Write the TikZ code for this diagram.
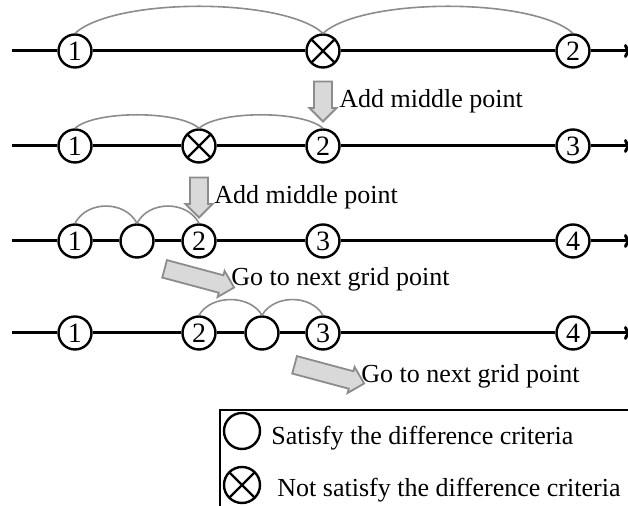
\documentclass[tikz,border=0pt]{standalone}
\usepackage{fontspec}
\setmainfont{Liberation Serif}
\usetikzlibrary{shapes.arrows,arrows.meta}
\definecolor{arcgray}{HTML}{8C8C8C}
\definecolor{blockfill}{HTML}{D9D9D9}
\definecolor{blockedge}{HTML}{8C8C8C}

\begin{document}
\begin{tikzpicture}[x=0.5pt,y=-0.5pt,
    font=\fontsize{13}{15}\selectfont,
    axis/.style={line width=1.5pt, -{To[length=4pt,width=7pt]}},
    grid/.style={circle, draw, line width=1.2pt, fill=white, minimum size=16.5pt, inner sep=0pt, font=\fontsize{14}{16}\selectfont},
    fail/.style={grid, path picture={\draw[line width=1.2pt] (path picture bounding box.north west) -- (path picture bounding box.south east) (path picture bounding box.north east) -- (path picture bounding box.south west);}},
    hop/.style={draw=arcgray, line width=0.8pt},
    blockarrow/.style={single arrow, draw=blockedge, fill=blockfill, line width=0.9pt, inner xsep=0pt, inner ysep=3.6pt, minimum width=13.5pt, single arrow head extend=2pt},
    note/.style={inner sep=0pt, anchor=west}]
    \useasboundingbox (0,0) rectangle (628,506);
    \clip (0,0) rectangle (628,506);

    \node[grid] (r1a) at (75,51) {1};
    \node[fail] (r1x) at (323,51) {};
    \node[grid] (r1b) at (573,51) {2};
    \coordinate (r1s) at (12,51);
    \coordinate (r1e) at (632,51);
    \draw[axis] (r1s) -- (r1a) -- (r1x) -- (r1b) -- (r1e);
    \draw[hop] (r1a.north) .. controls +(40,-36) and +(-40,-36) .. (r1x.north);
    \draw[hop] (r1x.north) .. controls +(40,-36) and +(-40,-36) .. (r1b.north);

    \node[blockarrow, minimum height=20pt, rotate=-90] (add1) at (323,97) {};
    \node[note] (add1txt) at (339,101) {Add middle point};

    \node[grid] (r2a) at (75,146) {1};
    \node[fail] (r2x) at (199,146) {};
    \node[grid] (r2b) at (323,146) {2};
    \node[grid] (r2c) at (573,146) {3};
    \coordinate (r2s) at (12,146);
    \coordinate (r2e) at (632,146);
    \draw[axis] (r2s) -- (r2a) -- (r2x) -- (r2b) -- (r2c) -- (r2e);
    \draw[hop] (r2a.north) .. controls +(20,-18) and +(-20,-18) .. (r2x.north);
    \draw[hop] (r2x.north) .. controls +(20,-18) and +(-20,-18) .. (r2b.north);

    \node[blockarrow, minimum height=20pt, rotate=-90] (add2) at (199,193) {};
    \node[note] (add2txt) at (214,197) {Add middle point};

    \node[grid] (r3a) at (75,241) {1};
    \node[grid] (r3o) at (137,241) {};
    \node[grid] (r3b) at (199,241) {2};
    \node[grid] (r3c) at (323,241) {3};
    \node[grid] (r3d) at (573,241) {4};
    \coordinate (r3s) at (12,241);
    \coordinate (r3e) at (632,241);
    \draw[axis] (r3s) -- (r3a) -- (r3o) -- (r3b) -- (r3c) -- (r3d) -- (r3e);
    \draw[hop] (r3a.north) .. controls +(12,-23) and +(-12,-23) .. (r3o.north);
    \draw[hop] (r3o.north) .. controls +(12,-23) and +(-12,-23) .. (r3b.north);

    \node[blockarrow, minimum height=36pt, rotate=-15] (next1) at (195,277) {};
    \node[note] (next1txt) at (231,279) {Go to next grid point};

    \node[grid] (r4a) at (75,333) {1};
    \node[grid] (r4b) at (199,333) {2};
    \node[grid] (r4o) at (262,333) {};
    \node[grid] (r4c) at (323,333) {3};
    \node[grid] (r4d) at (573,333) {4};
    \coordinate (r4s) at (12,333);
    \coordinate (r4e) at (632,333);
    \draw[axis] (r4s) -- (r4a) -- (r4b) -- (r4o) -- (r4c) -- (r4d) -- (r4e);
    \draw[hop] (r4b.north) .. controls +(12,-21) and +(-12,-21) .. (r4o.north);
    \draw[hop] (r4o.north) .. controls +(12,-21) and +(-12,-21) .. (r4c.north);

    \node[blockarrow, minimum height=36pt, rotate=-15] (next2) at (325,373) {};
    \node[note] (next2txt) at (361,376) {Go to next grid point};

    \draw[line width=1.2pt] (220,410) rectangle (640,520);
    \node[grid, minimum size=18pt] (keyok) at (242,431) {};
    \node[note] (keyoktxt) at (271,438) {Satisfy the difference criteria};
    \node[fail, minimum size=18pt] (keyno) at (242,485) {};
    \node[note] (keynotxt) at (277,490) {Not satisfy the difference criteria};
\end{tikzpicture}
\end{document}
